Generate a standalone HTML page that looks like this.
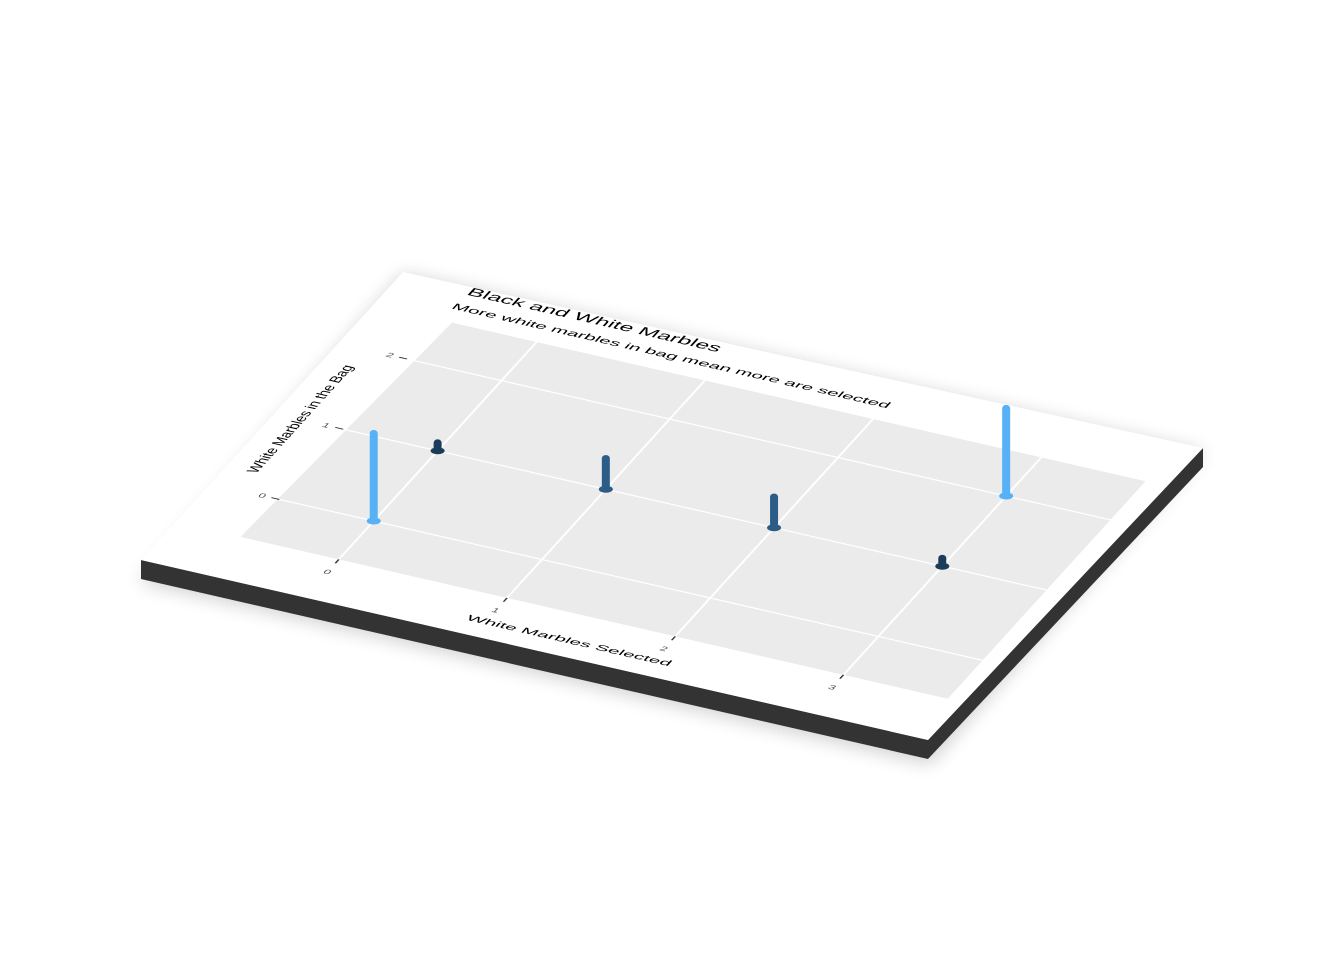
<!DOCTYPE html>
<html><head><meta charset="utf-8"><style>
html,body{margin:0;padding:0;background:#fff;}
svg{display:block;}
text{font-family:"Liberation Sans",sans-serif;}
</style></head><body>
<svg id="chart" width="1344" height="960" viewBox="0 0 1344 960" xmlns="http://www.w3.org/2000/svg">
<defs>
<filter id="blur" x="-20%" y="-20%" width="140%" height="140%"><feGaussianBlur stdDeviation="9"/></filter>
</defs>
<polygon points="403,274 1205,452 930,764 139,582" fill="#000" opacity="0.18" filter="url(#blur)"/>
<polygon points="141,560 928,740 928,759 141,579" fill="#333333"/>
<polygon points="928,740 1203,448 1203,467 928,759" fill="#333333"/>
<polygon points="403,272 1203,448 928,740 141,560" fill="#ffffff"/>
<g id="flat" transform="matrix(0.98375,0.225,-0.43667,0.48,403,272)">
<polygon points="80,68 785,68 785,521 66,521" fill="#ebebeb"/>
<g id="grid"></g>
<g id="axes"></g>
<text x="70" y="14" font-size="21" textLength="256" lengthAdjust="spacingAndGlyphs" fill="#000">Black and White Marbles</text>
<text x="68" y="44" font-size="16" textLength="444" lengthAdjust="spacingAndGlyphs" fill="#000">More white marbles in bag mean more are selected</text>
<text x="422" y="575" font-size="15" text-anchor="middle" textLength="207" lengthAdjust="spacingAndGlyphs" fill="#000">White Marbles Selected</text>
<text transform="translate(31,294) rotate(-90)" x="0" y="0" font-size="15" text-anchor="middle" textLength="223" lengthAdjust="spacingAndGlyphs" fill="#000">White Marbles in the Bag</text>
</g>
<g id="marks"></g>
</svg>
<script>
const xVals = [0, 0, 1, 2, 3, 3];
const yVals = [0, 1, 1, 1, 1, 2];
const probVals = [1, 0.125, 0.375, 0.375, 0.125, 1];
const xTicks = [0, 1, 2, 3];
const yTicks = [0, 1, 2];
const xTickLabels = ["0", "1", "2", "3"];
const yTickLabels = ["0", "1", "2"];

const NS = "http://www.w3.org/2000/svg";
const M = {a:0.98375,b:0.225,c:-0.43667,d:0.48,e:403,f:272};
function xFlat(x){return 166 + 171*x;}
function yFlat(y){return 441 - 146.3*y;}
function project(u,v){return [M.a*u + M.c*v + M.e, M.b*u + M.d*v + M.f];}
function hScale(p){return 91*p;}
function lerp(a,b,t){return Math.round(a+(b-a)*t);}
function color(p){
  const lo=[19,43,67], hi=[86,177,247];
  return "rgb("+lerp(lo[0],hi[0],p)+","+lerp(lo[1],hi[1],p)+","+lerp(lo[2],hi[2],p)+")";
}
function mk(tag, attrs, parent){
  const el=document.createElementNS(NS,tag);
  for(const k in attrs) el.setAttribute(k,attrs[k]);
  parent.appendChild(el); return el;
}
const grid=document.getElementById('grid');
const axes=document.getElementById('axes');
xTicks.forEach((t,i)=>{
  const l=mk('line',{x1:xFlat(t),x2:xFlat(t),y1:68,y2:521,stroke:'#fff','stroke-width':2.2},grid);
  
  
  const tk=mk('line',{x1:xFlat(t),x2:xFlat(t),y1:521,y2:529,stroke:'#333','stroke-width':1.6},axes);
  
  
  const tx=mk('text',{x:xFlat(t),y:551,'font-size':12,'text-anchor':'middle',fill:'#4d4d4d'},axes);
  tx.textContent=xTickLabels[i];
  
  
});
yTicks.forEach((t,i)=>{
  const l=mk('line',{x1:70,x2:785,y1:yFlat(t),y2:yFlat(t),stroke:'#fff','stroke-width':2.2},grid);
  
  
  const tk=mk('line',{x1:62,x2:70,y1:yFlat(t),y2:yFlat(t),stroke:'#333','stroke-width':1.6},axes);
  
  
  const tx=mk('text',{x:56,y:yFlat(t)+4,'font-size':12,'text-anchor':'end',fill:'#4d4d4d'},axes);
  tx.textContent=yTickLabels[i];
  
  
});
const marks=document.getElementById('marks');
const idx=xVals.map((_,i)=>i).sort((i,j)=>project(xFlat(xVals[i]),yFlat(yVals[i]))[1]-project(xFlat(xVals[j]),yFlat(yVals[j]))[1]);
idx.forEach(i=>{
  const [px,py]=project(xFlat(xVals[i]),yFlat(yVals[i]));
  const h=hScale(probVals[i]);
  const c=color(probVals[i]);
  const g=mk('g',{},marks);
  
  
  const base=mk('ellipse',{cx:px,cy:py,rx:7,ry:3.5,fill:c},g);
  
  
  const stem=mk('rect',{x:px-4,y:py-h,width:8,height:h,rx:3.5,fill:c},g);
  
  
});
</script>
</body></html>
